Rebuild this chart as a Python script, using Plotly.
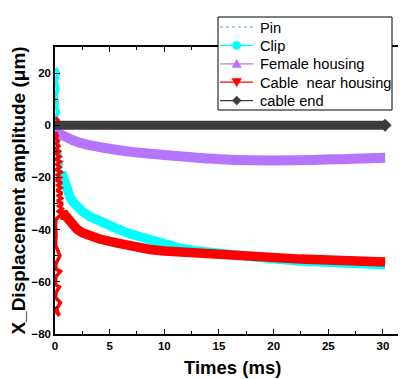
import plotly.graph_objects as go

# ---------------- data ----------------
pin_t = [0.0, 5, 10, 15, 20, 25, 30.2]
pin_v = [0, 0, 0, 0, 0, 0, 0]

clip_noise_t = [0.05, 0.3, 0.1, 0.25, 0.05, 0.2, 0.1, 0.3, 0.05, 0.15, 0.1, 0.25, 0.1, 0.3, 0.2, 0.45, 0.3, 0.55, 0.4, 0.6]
clip_noise_v = [22, 20, 17, 14, 11, 9, 7, 5, 3, 1, -1, -3, -5, -7, -9, -11, -13, -15, -17, -18]
clip_t = [0.6, 0.75, 0.9, 1.1, 1.4, 1.7, 2.0, 2.5, 3.2, 4.0, 5.0, 5.6, 7.0, 8.7, 10.0, 11.4, 13.0, 15.0, 17.5, 20.0, 22.5, 25.0, 27.5, 30.2]
clip_v = [-18, -20.5, -23, -25.5, -27.8, -29.6, -31, -33, -35, -36.8, -38.5, -39.5, -41.8, -44, -45.7, -47.1, -48.2, -49.2, -50.2, -51.2, -52, -52.6, -53.1, -53.5]

female_t = [0.0, 1.0, 2.0, 3.5, 5.0, 7.0, 8.7, 10.0, 12.0, 15.0, 18.0, 22.0, 26.0, 30.2]
female_v = [-2.5, -4.5, -6.3, -7.9, -9.0, -10.2, -10.9, -11.4, -12.1, -13.0, -13.4, -13.4, -13.0, -12.4]

cable_noise_t = [0.05, 0.2, 0.05, 0.3, 0.1, 0.35, 0.05, 0.4, 0.1, 0.45, 0.05, 0.5, 0.15, 0.45, 0.1, 0.55,
                 0.2, 0.5, 0.1, 0.6, 0.25, 0.55, 0.15, 0.65, 0.3, 0.6, 0.2, 0.7, 0.35, 0.65, 0.3, 0.6,
                 0.1, 0.05, 0.1, 0.05, 0.45, 0.1, 0.05, 0.5, 0.08, 0.05, 0.4, 0.1, 0.05, 0.5, 0.05, 0.4, 0.1]
cable_noise_v = [-2.7, -4, -5, -6, -7, -8, -9, -10, -11, -12, -13, -14, -15, -16, -17, -18,
                 -19, -20, -21, -22, -23, -24, -25, -26, -27, -28, -29, -30, -31, -32, -33, -34,
                 -36, -38, -42, -46, -50, -53, -55, -56, -58, -61, -62, -64, -66, -68, -71, -73, -70]
cable_top_t = [0.05, 0.3, 0.1]
cable_top_v = [3, 2, 1]
cable_t = [0.45, 0.7, 0.9, 1.07, 1.3, 1.6, 2.0, 2.5, 3.2, 4.0, 5.6, 7.0, 8.7, 10.0, 11.4, 13.0, 15.0, 17.5, 20.0, 22.5, 25.0, 27.5, 30.2]
cable_v = [-34.5, -34.0, -34.3, -35.2, -36.6, -38.3, -39.8, -41.2, -42.4, -43.5, -45.1, -46.4, -47.6, -48.2, -48.6, -49.1, -49.7, -50.4, -51.0, -51.3, -51.6, -52.0, -52.4]

end_t = [0.0, 5, 10, 15, 20, 25, 30.2]
end_v = [0, 0, 0, 0, 0, 0, 0]

legend_names = ["Pin", "Clip", "Female housing", "Cable\u00a0 near housing", "cable end"]
x_title = "Times (ms)"
y_title = "X_Displacement amplitude (μm)"

# ---------------- colours ----------------
C_PIN = "#8fd48f"
C_CLIP = "#00ffff"
C_FEM = "#b774ff"
C_CAB = "#ff0000"
C_END = "#3c3c3c"
legend_colors = [C_PIN, C_CLIP, C_FEM, C_CAB, C_END]
legend_symbols = [None, "circle", "triangle-up", "triangle-down", "diamond"]

fig = go.Figure()

fig.add_trace(go.Scatter(x=pin_t, y=pin_v, mode="lines", line=dict(color=C_PIN, width=1.5, dash="dot"), name="Pin"))
fig.add_trace(go.Scatter(x=clip_noise_t, y=clip_noise_v, mode="lines", line=dict(color=C_CLIP, width=4), name="Clip"))
fig.add_trace(go.Scatter(x=clip_t, y=clip_v, mode="lines", line=dict(color=C_CLIP, width=9.5), name="Clip"))
fig.add_trace(go.Scatter(x=female_t, y=female_v, mode="lines", line=dict(color=C_FEM, width=10, shape="spline"), name="Female housing"))
fig.add_trace(go.Scatter(x=cable_noise_t, y=cable_noise_v, mode="lines", line=dict(color=C_CAB, width=3.5), name="Cable near housing"))
fig.add_trace(go.Scatter(x=cable_top_t, y=cable_top_v, mode="lines", line=dict(color=C_CAB, width=3), name="Cable near housing"))
fig.add_trace(go.Scatter(x=cable_t, y=cable_v, mode="lines", line=dict(color=C_CAB, width=9.5), name="Cable near housing"))
fig.add_trace(go.Scatter(x=end_t, y=end_v, mode="lines", line=dict(color=C_END, width=9), name="cable end"))
fig.add_trace(go.Scatter(x=end_t[-1:], y=end_v[-1:], mode="markers", marker=dict(symbol="diamond", color=C_END, size=10), name="cable end"))

# ---------------- layout geometry (figure pixels) ----------------
W, H = 406, 379
ML, MR, MT, MB = 47, 7, 39, 53
PW = W - ML - MR
PH = H - MT - MB


def px(x):
    return (x - ML) / PW


def py(y):
    return (H - MB - y) / PH


FONT = "Arial, Liberation Sans, sans-serif"

# ---------------- hand-made legend box (drawn as shapes + text) ----------------
shapes = []
annotations = []
box = dict(x0=210, x1=384, y0=9, y1=102)
shapes.append(dict(type="rect", xref="paper", yref="paper", layer="above",
                   x0=px(box["x0"]), x1=px(box["x1"]), y0=py(box["y1"]), y1=py(box["y0"]),
                   fillcolor="white", line=dict(color="#000000", width=1)))
row_y0, row_step = 19, 18.4
sym_x0, sym_x1, sym_xc, text_x = 212, 245, 228.7, 250
for i, (name, col, sym) in enumerate(zip(legend_names, legend_colors, legend_symbols)):
    yc = row_y0 + i * row_step
    shapes.append(dict(type="line", xref="paper", yref="paper", layer="above",
                       x0=px(sym_x0), x1=px(sym_x1), y0=py(yc), y1=py(yc),
                       line=dict(color=col, width=1.3 if sym else 1.5, dash="dot" if sym is None else "solid")))
    r = 4.2
    if sym == "circle":
        shapes.append(dict(type="circle", xref="paper", yref="paper", layer="above",
                           x0=px(sym_xc - r), x1=px(sym_xc + r), y0=py(yc + r), y1=py(yc - r),
                           fillcolor=col, line=dict(color=col, width=0.5)))
    elif sym == "triangle-up":
        path = f"M {px(sym_xc - 4.8)},{py(yc + 3.8)} L {px(sym_xc + 4.8)},{py(yc + 3.8)} L {px(sym_xc)},{py(yc - 4.6)} Z"
        shapes.append(dict(type="path", xref="paper", yref="paper", layer="above", path=path,
                           fillcolor=col, line=dict(color=col, width=0.5)))
    elif sym == "triangle-down":
        path = f"M {px(sym_xc - 4.8)},{py(yc - 3.8)} L {px(sym_xc + 4.8)},{py(yc - 3.8)} L {px(sym_xc)},{py(yc + 4.6)} Z"
        shapes.append(dict(type="path", xref="paper", yref="paper", layer="above", path=path,
                           fillcolor=col, line=dict(color=col, width=0.5)))
    elif sym == "diamond":
        path = (f"M {px(sym_xc - 4.5)},{py(yc)} L {px(sym_xc)},{py(yc - 4.5)} "
                f"L {px(sym_xc + 4.5)},{py(yc)} L {px(sym_xc)},{py(yc + 4.5)} Z")
        shapes.append(dict(type="path", xref="paper", yref="paper", layer="above", path=path,
                           fillcolor=col, line=dict(color=col, width=0.5)))
    annotations.append(dict(text=name, xref="paper", yref="paper", x=px(text_x), y=py(yc + 0.5),
                            xanchor="left", yanchor="middle", showarrow=False,
                            font=dict(family=FONT, size=14.7, color="#000000")))

# x-axis title placed as text below the tick labels
annotations.append(dict(text=f"<b>{x_title}</b>", xref="paper", yref="paper", x=px(224), y=py(359.5),
                        xanchor="center", yanchor="middle", showarrow=False,
                        font=dict(family=FONT, size=18.5, color="#000000")))

axis_common = dict(
    showgrid=False, zeroline=False, showline=True, linecolor="#000000", linewidth=1.5,
    mirror="allticks", ticks="inside", ticklen=5, tickwidth=1, tickcolor="#000000",
    tickfont=dict(family=FONT, size=11.5, color="#000000", weight="bold"),
    automargin=False,
)

fig.update_layout(
    width=W, height=H,
    margin=dict(l=ML, r=MR, t=MT, b=MB, autoexpand=False),
    paper_bgcolor="white", plot_bgcolor="white",
    font=dict(family=FONT, color="#000000"),
    showlegend=False,
    xaxis=dict(range=[0, 32.2], tick0=0, dtick=5,
               minor=dict(dtick=2.5, ticks="inside", ticklen=3, tickcolor="#000000"),
               **axis_common),
    yaxis=dict(range=[-80, 30], tick0=0, dtick=20,
               minor=dict(dtick=10, ticks="inside", ticklen=3, tickcolor="#000000"),
               title=dict(text=y_title, font=dict(family=FONT, size=19, color="#000000", weight="bold"), standoff=8),
               **axis_common),
    shapes=shapes,
    annotations=annotations,
)

fig.write_html("out.html")
